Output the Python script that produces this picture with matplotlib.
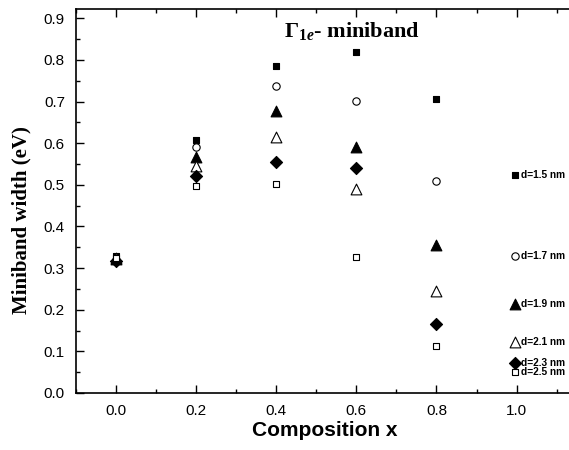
import matplotlib.pyplot as plt
from matplotlib.ticker import MultipleLocator

plt.rcParams['mathtext.fontset'] = 'custom'
plt.rcParams['mathtext.it'] = 'Liberation Serif:italic:bold'
plt.rcParams['mathtext.rm'] = 'Liberation Serif:bold'

composition = [0.0, 0.2, 0.4, 0.6, 0.8]
labels = ['d=1.5 nm', 'd=1.7 nm', 'd=1.9 nm', 'd=2.1 nm', 'd=2.3 nm', 'd=2.5 nm']
w_15 = [0.330, 0.607, 0.785, 0.820, 0.705]
w_17 = [0.320, 0.590, 0.737, 0.702, 0.508]
w_19 = [0.322, 0.567, 0.677, 0.590, 0.355]
w_21 = [0.325, 0.545, 0.615, 0.490, 0.245]
w_23 = [0.318, 0.520, 0.555, 0.540, 0.165]
w_25 = [0.325, 0.497, 0.502, 0.327, 0.113]
series = [w_15, w_17, w_19, w_21, w_23, w_25]
# where the hand-placed labels sit on the right
label_y = [0.523, 0.330, 0.213, 0.123, 0.073, 0.051]

styles = [
    dict(marker='s', s=18, facecolors='black', edgecolors='black'),
    dict(marker='o', s=28, facecolors='white', edgecolors='black'),
    dict(marker='^', s=60, facecolors='black', edgecolors='black'),
    dict(marker='^', s=60, facecolors='white', edgecolors='black'),
    dict(marker='D', s=38, facecolors='black', edgecolors='black'),
    dict(marker='s', s=18, facecolors='white', edgecolors='black'),
]

fig = plt.figure(figsize=(5.69, 4.5), dpi=100)
ax = fig.add_axes([0.1336, 0.1267, 0.915, 0.853])

for vals, lab, ly, st in zip(series, labels, label_y, styles):
    ax.scatter(composition, vals, linewidths=0.8, zorder=3, **st)
    ax.scatter([0.995], [ly], linewidths=0.8, zorder=3, clip_on=False, **st)
    ax.text(1.012, ly, lab, fontsize=7.3, fontweight='bold', family='Liberation Sans',
            va='center', ha='left')

ax.text(0.42, 0.87, r'$\mathit{\Gamma}_{\mathit{1e}}$' + '- miniband', fontsize=16,
        fontweight='bold', family='Liberation Serif', va='center')

ax.set_xlim(-0.1, 1.2)
ax.set_ylim(0.0, 0.922)
ax.xaxis.set_major_locator(MultipleLocator(0.2))
ax.xaxis.set_minor_locator(MultipleLocator(0.1))
ax.yaxis.set_major_locator(MultipleLocator(0.1))
ax.yaxis.set_minor_locator(MultipleLocator(0.05))
ax.set_xticks([0.0, 0.2, 0.4, 0.6, 0.8, 1.0])
ax.tick_params(which='both', direction='in', top=True, right=False, width=1,
               labelsize=11, pad=8)
ax.tick_params(which='major', length=6)
ax.tick_params(which='minor', length=3)
for t in ax.get_xticklabels() + ax.get_yticklabels():
    t.set_family('Liberation Sans')
for sp in ax.spines.values():
    sp.set_linewidth(1.2)
ax.spines['right'].set_visible(False)

ax.set_xlabel('Composition x', fontsize=15, fontweight='bold', family='Liberation Sans')
ax.set_ylabel('Miniband width (eV)', fontsize=15, fontweight='bold', family='Liberation Serif')
ax.xaxis.set_label_coords(0.478, -0.073)
ax.yaxis.set_label_coords(-0.085, 0.45)

fig.savefig('out.png', dpi=100)
